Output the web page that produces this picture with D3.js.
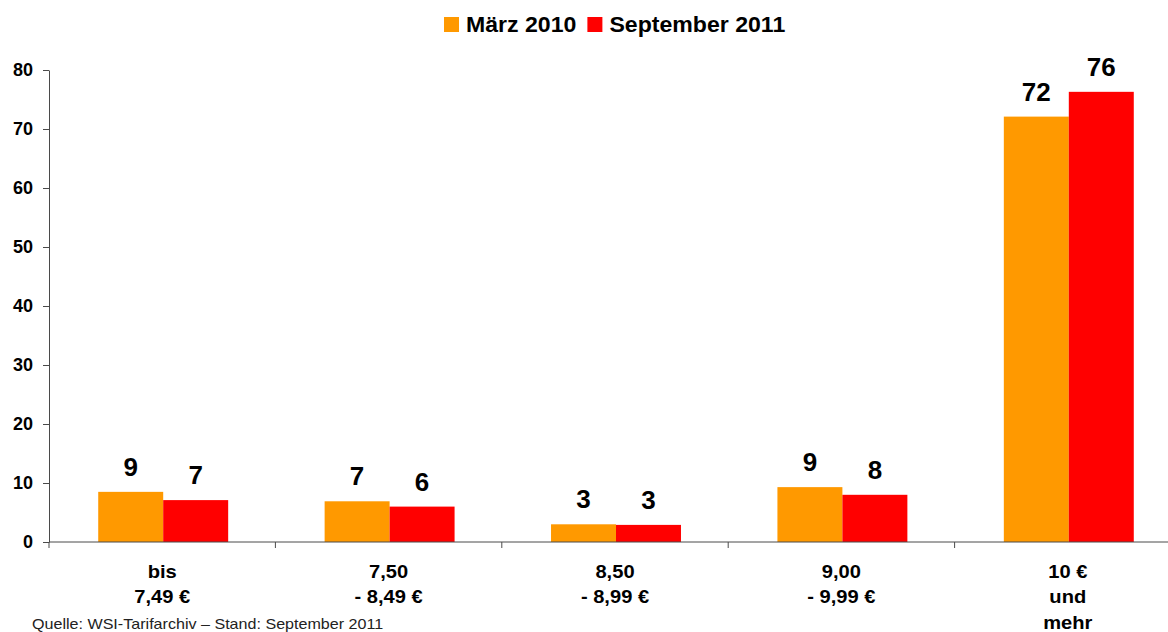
<!DOCTYPE html>
<html>
<head>
<meta charset="utf-8">
<script src="https://cdn.jsdelivr.net/npm/d3@7"></script>
<style>
  html, body { margin: 0; padding: 0; background: #fff; }
  svg { display: block; font-family: Arial, "Liberation Sans", sans-serif; }
</style>
</head>
<body>
<svg id="chart" width="1168" height="632"></svg>
<script>
const categories = ['bis 7,49', '7,50 - 8,49', '8,50 - 8,99', '9,00 - 9,99', '10 und mehr'];
const categoryLines = [
  ['bis', '7,49 €'],
  ['7,50', '- 8,49 €'],
  ['8,50', '- 8,99 €'],
  ['9,00', '- 9,99 €'],
  ['10 €', 'und', 'mehr'],
];
const seriesNames = ['März 2010', 'September 2011'];
const maerz2010 = [8.5, 6.9, 3.0, 9.3, 72.1];
const september2011 = [7.1, 6.0, 2.9, 8.0, 76.3];
const yTicks = [0, 10, 20, 30, 40, 50, 60, 70, 80];

const ORANGE = '#ff9900';
const RED = '#ff0000';
const AXIS = '#4a4a4a';
const colors = [ORANGE, RED];
const series = [maerz2010, september2011];

const svg = d3.select('#chart');
svg.append('rect').attr('width', 1168).attr('height', 632).attr('fill', '#fff');

const plot = { left: 49, right: 1181, top: 70, bottom: 542 };

const x0 = d3.scaleBand()
  .domain(categories)
  .range([plot.left + 1, plot.right + 1])
  .paddingInner(0.426)
  .paddingOuter(0.213);

const xCat = d3.scaleBand()
  .domain(categories)
  .range([plot.left, plot.right]);

const x1 = d3.scaleBand()
  .domain(seriesNames)
  .range([0, x0.bandwidth()]);

const y = d3.scaleLinear()
  .domain([0, 80])
  .range([plot.bottom, plot.top]);

// y axis
const yAxisEl = svg.append('g')
  .attr('transform', `translate(${plot.left},0)`)
  .call(d3.axisLeft(y).tickValues(yTicks).tickSize(6).tickSizeOuter(0).tickPadding(10));
yAxisEl.select('.domain').attr('stroke', AXIS);
yAxisEl.selectAll('.tick line').attr('stroke', AXIS);
yAxisEl.selectAll('text')
  .attr('fill', '#000')
  .style('font-size', '18px')
  .style('font-weight', 'bold')
  .style('font-family', 'Arial, "Liberation Sans", sans-serif');

// bars
const groups = svg.selectAll('.cat')
  .data(categories)
  .enter()
  .append('g')
  .attr('class', 'cat')
  .attr('transform', d => `translate(${x0(d)},0)`);

const barData = (d, i) => seriesNames.map((s, j) => ({ s, j, v: series[j][i] }));

groups.each(function (d, i) {
  const g = d3.select(this);
  const items = barData(d, i);
  g.selectAll('rect')
    .data(items)
    .enter()
    .append('rect')
    .attr('x', b => x1(b.s))
    .attr('width', x1.bandwidth())
    .attr('y', b => y(b.v))
    .attr('height', b => y(0) - y(b.v))
    .attr('fill', b => colors[b.j]);
  g.selectAll('text.value')
    .data(items)
    .enter()
    .append('text')
    .attr('class', 'value')
    .attr('x', b => x1(b.s) + x1.bandwidth() / 2)
    .attr('y', b => y(b.v) - 16)
    .attr('text-anchor', 'middle')
    .style('font-size', '26px')
    .style('font-weight', 'bold')
    .attr('fill', '#000')
    .text(b => Math.round(b.v));
});

// x axis
svg.append('line')
  .attr('x1', plot.left).attr('x2', plot.right)
  .attr('y1', y(0)).attr('y2', y(0))
  .attr('stroke', AXIS);
svg.selectAll('.xtick')
  .data(categories.concat(['end']))
  .enter()
  .append('line')
  .attr('class', 'xtick')
  .attr('x1', (d, i) => plot.left + xCat.step() * i)
  .attr('x2', (d, i) => plot.left + xCat.step() * i)
  .attr('y1', y(0)).attr('y2', y(0) + 6)
  .attr('stroke', AXIS);

// category labels
categories.forEach((c, i) => {
  const cx = xCat(c) + xCat.bandwidth() / 2;
  const t = svg.append('text')
    .attr('transform', `translate(${cx},578) scale(1.15,1)`)
    .attr('text-anchor', 'middle')
    .style('font-size', '17.5px')
    .style('font-weight', 'bold')
    .attr('fill', '#000');
  categoryLines[i].forEach((line, k) => {
    t.append('tspan').attr('x', 0).attr('dy', k === 0 ? 0 : 25.5).text(line);
  });
});

// legend
let lx = 444;
seriesNames.forEach((s, i) => {
  svg.append('rect')
    .attr('x', lx).attr('y', 17)
    .attr('width', 15).attr('height', 15)
    .attr('fill', colors[i]);
  const t = svg.append('text')
    .attr('transform', `translate(${lx + 22},32) scale(1.05,1)`)
    .style('font-size', '22px')
    .style('font-weight', 'bold')
    .attr('fill', '#000')
    .text(s);
  lx = lx + 22 + t.node().getComputedTextLength() * 1.05 + 11;
});

// source
svg.append('text')
  .attr('transform', 'translate(32,629) scale(1.15,1)')
  .style('font-size', '14px')
  .attr('fill', '#222')
  .text('Quelle: WSI-Tarifarchiv – Stand: September 2011');
</script>
</body>
</html>
